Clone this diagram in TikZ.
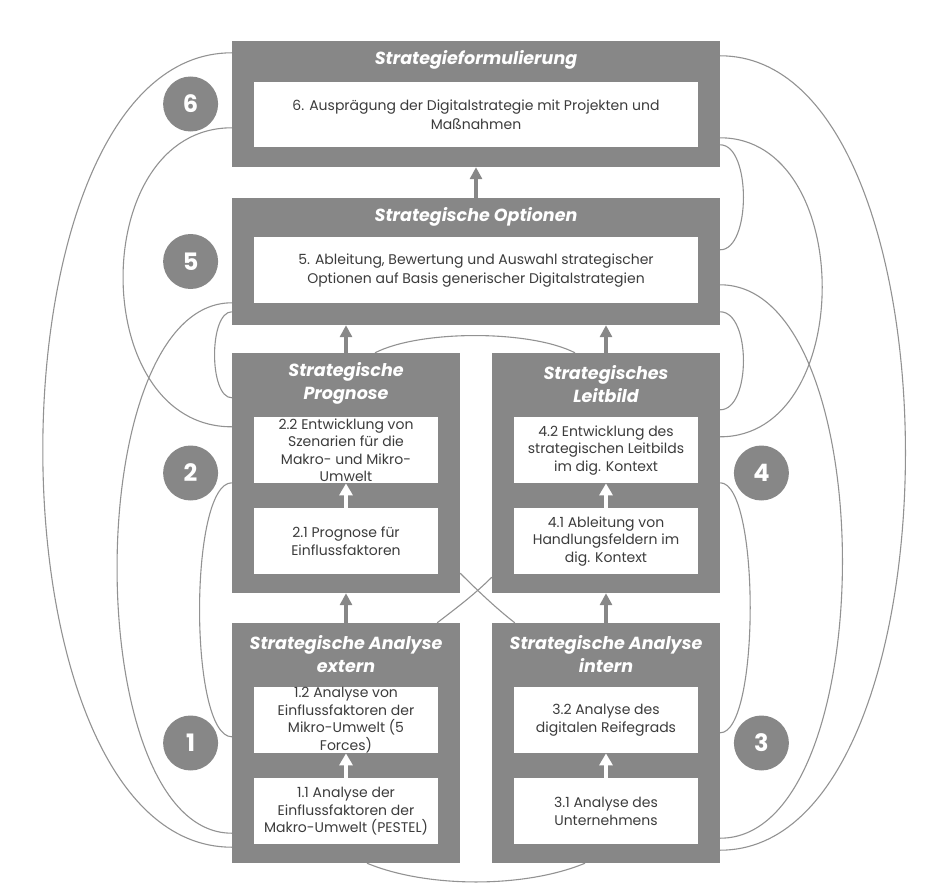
\documentclass[tikz,border=0pt]{standalone}
\usepackage{fontspec}
\setmainfont{Poppins}
\usepackage{tikz}
\usetikzlibrary{positioning,calc,arrows.meta,backgrounds}

\definecolor{phasegray}{HTML}{878787}
\definecolor{linkgray}{HTML}{929292}
\definecolor{steptext}{HTML}{3C3C3C}

\tikzstyle{phase} = [rectangle, fill=phasegray, inner sep=0pt]
\tikzstyle{phasetitle} = [text=white, align=center, inner sep=0pt, font=\fontsize{17.5}{23}\selectfont\bfseries\itshape]
\tikzstyle{stepbox} = [rectangle, fill=white, inner sep=0pt, align=center, text=steptext, font=\fontsize{14}{17.5}\selectfont]
\tikzstyle{num} = [circle, fill=phasegray, minimum size=55pt, inner sep=0pt, text=white, font=\fontsize{24}{24}\selectfont\bfseries]
\tikzstyle{uparrow} = [line width=4pt, draw=phasegray, -{Triangle[width=12pt,length=12pt]}]
\tikzstyle{whitearrow} = [line width=4pt, draw=white, -{Triangle[width=13pt,length=12pt]}]
\tikzstyle{link} = [draw=linkgray, line width=1.1pt]

\begin{document}
\begin{tikzpicture}[x=1pt, y=-1pt]
    \useasboundingbox (0,0) rectangle (927,883);

    % phases
    \node (p6) [phase, minimum width=488pt, minimum height=126pt] at (476,104) {};
    \node (p5) [phase, minimum width=488pt, minimum height=127pt] at (476,261.5) {};
    \node (p2) [phase, minimum width=228pt, minimum height=240pt] at (346,473) {};
    \node (p4) [phase, minimum width=228pt, minimum height=240pt] at (606,473) {};
    \node (p1) [phase, minimum width=228pt, minimum height=240pt] at (346,743) {};
    \node (p3) [phase, minimum width=228pt, minimum height=240pt] at (606,743) {};

    \node (t6) [phasetitle] at ($(p6.north)+(0,19)$) {Strategieformulierung};
    \node (t5) [phasetitle] at ($(p5.north)+(0,19)$) {Strategische Optionen};
    \node (t2) [phasetitle] at ($(p2.north)+(0,31)$) {Strategische\\Prognose};
    \node (t4) [phasetitle] at ($(p4.north)+(0,31)$) {Strategisches\\Leitbild};
    \node (t1) [phasetitle] at ($(p1.north)+(0,31)$) {Strategische Analyse\\extern};
    \node (t3) [phasetitle] at ($(p3.north)+(0,31)$) {Strategische Analyse\\intern};

    % steps
    \node (s6) [stepbox, minimum width=444pt, minimum height=65pt, font=\fontsize{14}{19}\selectfont] at ($(p6.south)+(0,-52.5)$)
        {6. Ausprägung der Digitalstrategie mit Projekten und\\Maßnahmen};
    \node (s5) [stepbox, minimum width=444pt, minimum height=66pt, font=\fontsize{14}{19}\selectfont] at ($(p5.south)+(0,-55)$)
        {5. Ableitung, Bewertung und Auswahl strategischer\\Optionen auf Basis generischer Digitalstrategien};
    \node (s22) [stepbox, minimum width=184pt, minimum height=66pt] at ($(p2.south)+(0,-143)$)
        {2.2 Entwicklung von\\Szenarien für die\\Makro- und Mikro-\\Umwelt};
    \node (s21) [stepbox, minimum width=184pt, minimum height=66pt] at ($(p2.south)+(0,-52)$)
        {2.1 Prognose für\\Einflussfaktoren};
    \node (s42) [stepbox, minimum width=184pt, minimum height=66pt] at ($(p4.south)+(0,-143)$)
        {4.2 Entwicklung des\\strategischen Leitbilds\\im dig. Kontext};
    \node (s41) [stepbox, minimum width=184pt, minimum height=66pt] at ($(p4.south)+(0,-52)$)
        {4.1 Ableitung von\\Handlungsfeldern im\\dig. Kontext};
    \node (s12) [stepbox, minimum width=184pt, minimum height=66pt] at ($(p1.south)+(0,-143)$)
        {1.2 Analyse von\\Einflussfaktoren der\\Mikro-Umwelt (5\\Forces)};
    \node (s11) [stepbox, minimum width=184pt, minimum height=66pt] at ($(p1.south)+(0,-52)$)
        {1.1 Analyse der\\Einflussfaktoren der\\Makro-Umwelt (PESTEL)};
    \node (s32) [stepbox, minimum width=184pt, minimum height=66pt] at ($(p3.south)+(0,-143)$)
        {3.2 Analyse des\\digitalen Reifegrads};
    \node (s31) [stepbox, minimum width=184pt, minimum height=66pt] at ($(p3.south)+(0,-52)$)
        {3.1 Analyse des\\Unternehmens};

    % numbers
    \node (n6) [num, left=13.5pt of p6] {6};
    \node (n5) [num, left=13.5pt of p5] {5};
    \node (n2) [num, left=13.5pt of p2] {2};
    \node (n1) [num, left=13.5pt of p1] {1};
    \node (n4) [num, right=13.5pt of p4] {4};
    \node (n3) [num, right=13.5pt of p3] {3};

    \draw [uparrow] (p5.north) -- (p6.south);
    \draw [uparrow] (p2.north) -- (p2.north |- p5.south);
    \draw [uparrow] (p4.north) -- (p4.north |- p5.south);
    \draw [uparrow] (p1.north) -- (p2.south);
    \draw [uparrow] (p3.north) -- (p4.south);
    \draw [whitearrow] (s21) -- (s22);
    \draw [whitearrow] (s41) -- (s42);
    \draw [whitearrow] (s11) -- (s12);
    \draw [whitearrow] (s31) -- (s32);

    % feedback links
    \begin{scope}[on background layer]
    \draw [link] ($(p6.north west)+(0,12)$) .. controls +(-252,0) and +(-252,0) .. ($(p1.south west)+(0,-16)$);
    \draw [link] ($(p6.north west)+(0,87)$) .. controls +(-145,0) and +(-145,0) .. ($(p2.north west)+(0,74)$);
    \draw [link] ($(p5.north west)+(0,105)$) .. controls +(-153,0) and +(-153,0) .. ($(p1.south west)+(0,-30)$);
    \draw [link] ($(p5.north west)+(0,114)$) .. controls +(-23,0) and +(-23,0) .. ($(p2.north west)+(0,45)$);
    \draw [link] ($(p2.north west)+(0,130)$) .. controls +(-43,0) and +(-43,0) .. ($(p1.north west)+(0,114)$);
    \draw [link] ($(p6.north east)+(0,15)$) .. controls +(247,0) and +(247,0) .. ($(p3.south east)+(0,-13)$);
    \draw [link] ($(p6.north east)+(0,97)$) .. controls +(136,0) and +(136,0) .. ($(p4.north east)+(0,84)$);
    \draw [link] ($(p6.north east)+(0,104)$) .. controls +(31,0) and +(31,0) .. ($(p5.north east)+(0,52)$);
    \draw [link] ($(p5.north east)+(0,87)$) .. controls +(163,0) and +(163,0) .. ($(p3.south east)+(0,-25)$);
    \draw [link] ($(p5.north east)+(0,114)$) .. controls +(31,0) and +(31,0) .. ($(p4.north east)+(0,57)$);
    \draw [link] ($(p4.north east)+(0,130)$) .. controls +(40,0) and +(40,0) .. ($(p3.north east)+(0,110)$);
    \draw [link] ($(p2.north)+(29,0)$) .. controls +(45,-23) and +(-45,-23) .. ($(p4.north)+(-31,0)$);
    \draw [link] ($(p2.south east)+(0,-20)$) .. controls +(18,18) and +(-18,-14) .. ($(p3.north west)+(23,0)$);
    \draw [link] ($(p4.south west)+(0,-16)$) .. controls +(-18,18) and +(18,-14) .. ($(p1.north east)+(-23,0)$);
    \draw [link] ($(p1.south)+(21,0)$) .. controls +(60,25) and +(-60,25) .. ($(p3.south)+(-21,0)$);
    \end{scope}
\end{tikzpicture}
\end{document}
